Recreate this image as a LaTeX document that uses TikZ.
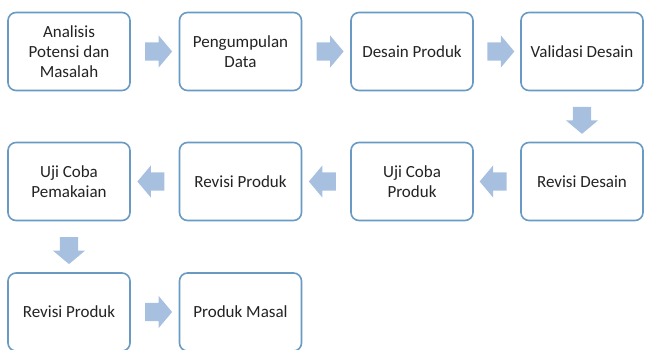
\documentclass[tikz,border=0pt]{standalone}
\usepackage{fontspec}
\setmainfont{Carlito}
\usetikzlibrary{shapes.arrows,calc}
\definecolor{boxline}{RGB}{104,154,196}
\definecolor{arrowfill}{RGB}{167,192,224}
\definecolor{txt}{RGB}{35,35,35}
\begin{document}
\begin{tikzpicture}[x=1pt,y=-1pt,
  stepbox/.style={draw=boxline, line width=1.6pt, rounded corners=8pt, fill=white,
    minimum width=122pt, minimum height=78pt, inner sep=2pt, align=center,
    text=txt, font=\fontsize{17}{20}\selectfont},
  flow/.style={single arrow, fill=arrowfill, draw=none, inner xsep=0pt, inner ysep=9pt,
    minimum height=27pt, single arrow head extend=7pt, single arrow tip angle=100,
    single arrow head indent=0pt}]
\useasboundingbox (0,0) rectangle (645,349);
\begin{scope}
\clip (0,0) rectangle (645,349);
\node[stepbox] (a1) at (69,51.5) {Analisis\\Potensi dan\\Masalah};
\node[stepbox] (a2) at (240.5,51.5) {Pengumpulan\\Data};
\node[stepbox] (a3) at (412,51.5) {Desain Produk};
\node[stepbox] (a4) at (582,51.5) {Validasi Desain};
\node[stepbox] (b4) at (582,181.5) {Revisi Desain};
\node[stepbox] (b3) at (412,181.5) {Uji Coba\\Produk};
\node[stepbox] (b2) at (240.5,181.5) {Revisi Produk};
\node[stepbox] (b1) at (69,181.5) {Uji Coba\\Pemakaian};
\node[stepbox] (c1) at (69,312) {Revisi Produk};
\node[stepbox] (c2) at (240.5,312) {Produk Masal};

\node[flow] (f1) at ($(a1.east)!0.5!(a2.west)$) {};
\node[flow] (f2) at ($(a2.east)!0.5!(a3.west)$) {};
\node[flow] (f3) at ($(a3.east)!0.5!(a4.west)$) {};
\node[flow, rotate=-90] (f4) at ($(a4.south)!0.5!(b4.north)$) {};
\node[flow, rotate=180] (f5) at ($(b4.west)!0.5!(b3.east)$) {};
\node[flow, rotate=180] (f6) at ($(b3.west)!0.5!(b2.east)$) {};
\node[flow, rotate=180] (f7) at ($(b2.west)!0.5!(b1.east)$) {};
\node[flow, rotate=-90] (f8) at ($(b1.south)!0.5!(c1.north)$) {};
\node[flow] (f9) at ($(c1.east)!0.5!(c2.west)$) {};
\end{scope}
\end{tikzpicture}
\end{document}
